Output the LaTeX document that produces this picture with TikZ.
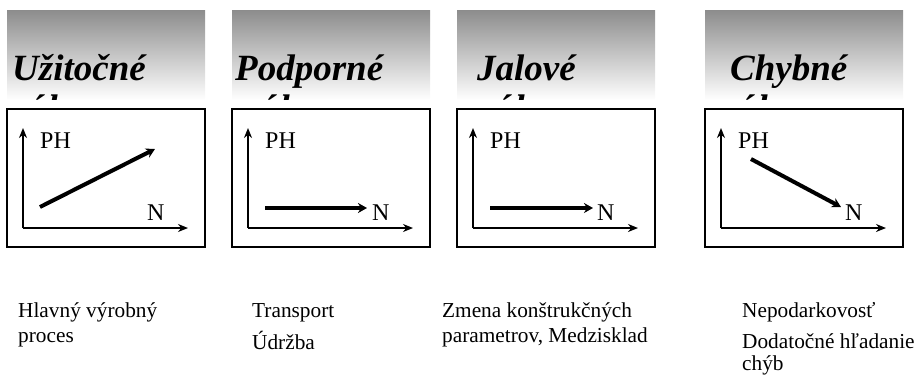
\documentclass[tikz,border=0pt]{standalone}
\usepackage{fontspec}
\setmainfont{Liberation Serif}
\usetikzlibrary{arrows.meta}
\tikzset{
  gbox/.style={top color=black!45, bottom color=white, draw=none},
  frame/.style={draw=black, line width=1.3pt},
  axis/.style={line width=1.8pt, -{Stealth[length=10pt,width=8pt]}},
  trend/.style={line width=4pt, -{Stealth[length=9pt,width=10pt]}},
  ttl/.style={font=\fontsize{37}{42}\selectfont\bfseries\itshape, anchor=base west, inner sep=0pt},
  lbl/.style={font=\fontsize{24}{28}\selectfont, anchor=base west, inner sep=0pt},
  desc/.style={font=\fontsize{21.3}{25}\selectfont, anchor=base west, inner sep=0pt},
}
% #1 left edge, #2 prefix, #3 title, #4 title x offset, #5 second line x offset
\newcommand\mypanel[5]{%
  \begin{scope}[xshift=#1pt]
    \fill[gbox] (0,10) rectangle (198,100);
    \node[ttl] (#2t1) at (#4,80) {#3};
    \begin{scope}
      \clip (0,10) rectangle (198,99.5);
      \node[ttl] (#2t2) at (#5,120) {úkony};
    \end{scope}
    \draw[frame] (0,109) rectangle (198,247);
    \coordinate (#2o) at (16,228);
    \coordinate (#2y) at (16,128);
    \coordinate (#2x) at (181,228);
    \draw[axis] (#2o) -- (#2y);
    \draw[axis] (#2o) -- (#2x);
    \node[lbl] (#2ph) at (33,148) {PH};
    \node[lbl] (#2n) at (140,220) {N};
  \end{scope}}
\begin{document}
\begin{tikzpicture}[x=1pt,y=-1pt]
  \useasboundingbox (0,0) rectangle (914,376);
  \mypanel{7}{a}{Užitočné}{5}{20}
  \mypanel{232}{b}{Podporné}{3}{27}
  \mypanel{457}{c}{Jalové}{20}{37}
  \mypanel{705}{d}{Chybné}{25}{32}
  % trend arrows
  \coordinate (as) at (40,207);  \coordinate (ae) at (155,149);
  \coordinate (bs) at (265,208); \coordinate (be) at (367,208);
  \coordinate (cs) at (490,208); \coordinate (ce) at (593,208);
  \coordinate (ds) at (751,159); \coordinate (de) at (841,207);
  \draw[trend] (as) -- (ae);
  \draw[trend] (bs) -- (be);
  \draw[trend] (cs) -- (ce);
  \draw[trend] (ds) -- (de);
  % descriptions
  \node[desc] (d1a) at (18,317) {Hlavný výrobný};
  \node[desc] (d1b) at (18,342) {proces};
  \node[desc] (d2a) at (252,317) {Transport};
  \node[desc] (d2b) at (252,349) {Údržba};
  \node[desc] (d3a) at (442,317) {Zmena konštrukčných};
  \node[desc] (d3b) at (442,342) {parametrov, Medzisklad};
  \node[desc] (d4a) at (742,317) {Nepodarkovosť};
  \node[desc] (d4b) at (742,348) {Dodatočné hľadanie};
  \node[desc] (d4c) at (742,370) {chýb};
\end{tikzpicture}
\end{document}
